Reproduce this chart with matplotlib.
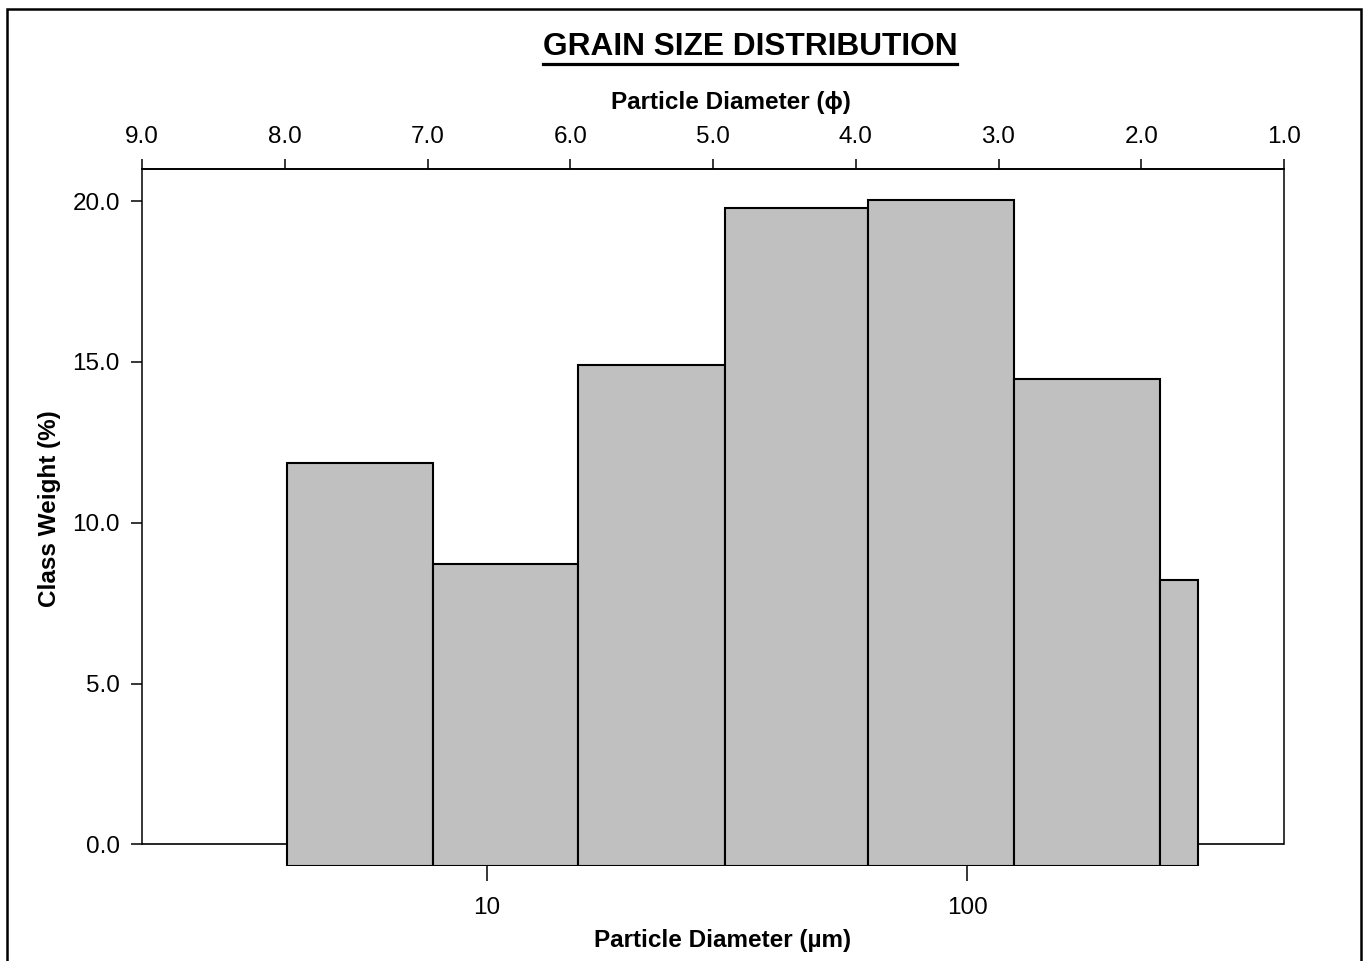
import matplotlib
matplotlib.use("Agg")
import matplotlib.pyplot as plt
from matplotlib.patches import Rectangle
from matplotlib.lines import Line2D
import numpy as np

plt.rcParams['font.family'] = ['Liberation Sans', 'DejaVu Sans']

# ---- data ----
bin_edges_um = [3.83, 7.72, 15.47, 31.3, 62.2, 125.3, 252.4, 302.7]
class_weight = [11.86, 8.73, 14.9, 19.78, 20.03, 14.47, 8.23]
phi_ticks = [9.0, 8.0, 7.0, 6.0, 5.0, 4.0, 3.0, 2.0, 1.0]
um_ticks = [10, 100]
y_ticks = [0.0, 5.0, 10.0, 15.0, 20.0]

W, H = 1367, 961
fig = plt.figure(figsize=(W / 100, H / 100), dpi=100)

ax_left, ax_right = 142 / W, 1284 / W
ax_top, ax_bot = 1 - 169 / H, 1 - 866 / H
ax = fig.add_axes([ax_left, ax_bot, ax_right - ax_left, ax_top - ax_bot])

ybottom = -0.67
ax.set_xscale('log')
ax.set_xlim(10 ** 0.28125, 10 ** 2.6604)
ax.set_ylim(ybottom, 21)

edges = np.array(bin_edges_um)
lefts = edges[:-1]
widths = edges[1:] - edges[:-1]
vals = np.array(class_weight)
ax.bar(lefts, vals - ybottom, width=widths, bottom=ybottom, align='edge',
       color='#C0C0C0', edgecolor='black', linewidth=1.5, zorder=3)

ax.axhline(0, color='black', lw=1.2, zorder=1)

for s in ['left', 'right']:
    ax.spines[s].set_bounds(0, 21)
    ax.spines[s].set_linewidth(1.1)
ax.spines['bottom'].set_visible(False)
ax.spines['top'].set_linewidth(1.2)

ax.set_yticks(y_ticks)
ax.set_yticklabels([f"{v:.1f}" for v in y_ticks])
ax.set_xticks(um_ticks)
ax.set_xticklabels([str(v) for v in um_ticks])
ax.xaxis.set_minor_locator(matplotlib.ticker.NullLocator())
ax.tick_params(axis='y', direction='out', length=8, width=1.1, pad=8, labelsize=17.5)
ax.tick_params(axis='x', direction='out', length=11, width=1.1, pad=11, labelsize=17.5)

ax2 = ax.twiny()
ax2.set_xlim(9, 1)
ax2.set_xticks(phi_ticks)
ax2.set_xticklabels([f"{v:.1f}" for v in phi_ticks])
ax2.tick_params(axis='x', direction='out', length=7, width=1.1, pad=8, labelsize=17.5)
for s in ['left', 'right', 'bottom']:
    ax2.spines[s].set_visible(False)
ax2.spines['top'].set_linewidth(1.2)

# labels
fig.text(731 / W, 1 - 103 / H, "Particle Diameter (ϕ)", ha='center', va='center',
         fontsize=17.5, fontweight='bold')
fig.text(723 / W, 1 - 941 / H, "Particle Diameter (µm)", ha='center', va='center',
         fontsize=17.5, fontweight='bold')
fig.text(50 / W, 1 - 509 / H, "Class Weight (%)", ha='center', va='center',
         rotation=90, fontsize=17.5, fontweight='bold')

title = fig.text(750 / W, 1 - 47 / H, "GRAIN SIZE DISTRIBUTION", ha='center', va='center',
                 fontsize=22.8, fontweight='bold')
fig.canvas.draw()
bb = title.get_window_extent(renderer=fig.canvas.get_renderer())
uy = 1 - 64 / H
fig.add_artist(Line2D([bb.x0 / W, bb.x1 / W], [uy, uy], color='black', lw=2.3,
                      transform=fig.transFigure))

# outer frame
fig.add_artist(Rectangle((7 / W, -0.05), (1361 - 7) / W, 1.05 - 9 / H,
                         transform=fig.transFigure, fill=False, edgecolor='black',
                         lw=1.8))

fig.savefig("out.png", dpi=100)
